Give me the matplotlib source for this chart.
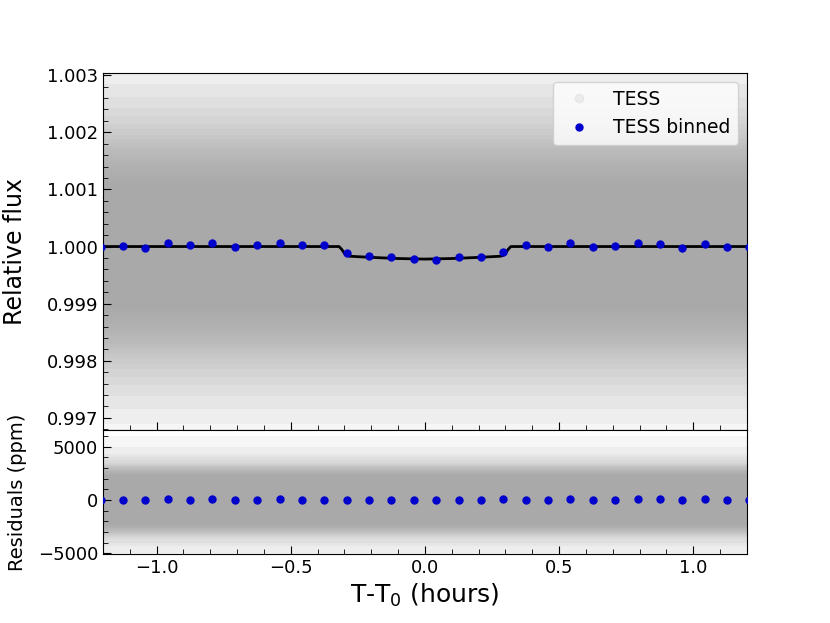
import matplotlib
matplotlib.use('Agg')
import matplotlib.pyplot as plt
from matplotlib.lines import Line2D
from matplotlib.ticker import MultipleLocator, FormatStrFormatter

# binned TESS points (5 min bins)
bin_t = [-1.208, -1.125, -1.042, -0.958, -0.875, -0.792, -0.708, -0.625,
         -0.542, -0.458, -0.375, -0.292, -0.208, -0.125, -0.042, 0.042,
         0.125, 0.208, 0.292, 0.375, 0.458, 0.542, 0.625, 0.708, 0.792,
         0.875, 0.958, 1.042, 1.125, 1.208]
bin_flux = [1.0, 1.00001, 0.99997, 1.00006, 1.00003, 1.00006, 0.99999,
            1.00003, 1.00006, 1.00002, 1.00002, 0.99988, 0.99984, 0.99982,
            0.99978, 0.99977, 0.99981, 0.99981, 0.9999, 1.00003, 1.0,
            1.00006, 0.99999, 1.00001, 1.00006, 1.00004, 0.99997, 1.00005,
            0.99999, 1.0]
bin_resid = [0, 10, -30, 60, 30, 60, -10, 30, 60, 20, 20, 20, 30, 30, 0,
             -10, 20, 0, 40, 30, 0, 60, -10, 10, 60, 40, -30, 50, -10, 0]

# transit model
model_t = [-1.25, -0.32, -0.31, -0.30, -0.29, -0.28, -0.2, -0.1, 0.0,
           0.1, 0.2, 0.28, 0.29, 0.30, 0.31, 0.32, 1.25]
model_f = [1.0, 1.0, 0.99995, 0.99988, 0.99984, 0.99983, 0.99981, 0.99979,
           0.99978, 0.99979, 0.99981, 0.99983, 0.99984, 0.99988, 0.99995,
           1.0, 1.0]

# spread of the unbinned TESS cloud around 1 (flux) and 0 (ppm):
# solid core plus translucent layers
span = [-1.25, 1.25]
flux_core = 0.0011
flux_halo = [0.00115, 0.00118, 0.00122, 0.00125, 0.00130, 0.00134, 0.00138,
             0.00142, 0.00147, 0.00152, 0.00157, 0.00164, 0.00170, 0.00176,
             0.00182, 0.00188, 0.00195, 0.00205, 0.00215, 0.00228, 0.00242,
             0.00262, 0.00285, 0.0031, 0.0034]
res_core = 2300
res_halo = [2340, 2380, 2420, 2460, 2500, 2540, 2580, 2620, 2660, 2700,
            2760, 2830, 2900, 2980, 3060, 3140, 3220, 3300, 3380, 3460,
            3700, 4000, 4300, 5000, 6000]

gray = '#a9a9a9'
blue = 'mediumblue'

fig, (ax, axr) = plt.subplots(2, 1, figsize=(8.3, 6.23), dpi=100, sharex=True,
                              gridspec_kw={'height_ratios': [2.88, 1], 'hspace': 0})
fig.subplots_adjust(left=0.124, right=0.9, top=0.883, bottom=0.111)

# main panel
for w in flux_halo:
    ax.fill_between(span, 1 - w, 1 + w, color=gray, alpha=0.1, lw=0, zorder=1)
ax.fill_between(span, 1 - flux_core, 1 + flux_core, color=gray, lw=0, zorder=1)
ax.plot(model_t, model_f, color='black', lw=2, zorder=3)
ax.plot(bin_t, bin_flux, 'o', color=blue, ms=5, zorder=4)

ax.set_xlim(-1.2, 1.2)
ax.set_ylim(0.99679, 1.00304)
ax.yaxis.set_major_locator(MultipleLocator(0.001))
ax.yaxis.set_minor_locator(MultipleLocator(0.0002))
ax.yaxis.set_major_formatter(FormatStrFormatter('%.3f'))
ax.xaxis.set_major_locator(MultipleLocator(0.5))
ax.xaxis.set_minor_locator(MultipleLocator(0.1))
ax.set_ylabel('Relative flux', fontsize=17)

handles = [Line2D([], [], marker='o', ls='', color=gray, alpha=0.15, ms=6),
           Line2D([], [], marker='o', ls='', color=blue, ms=5)]
ax.legend(handles, ['TESS', 'TESS binned'], loc='upper right', fontsize=13.5,
          framealpha=0.8)

# residuals
for w in res_halo:
    axr.fill_between(span, -w, w, color=gray, alpha=0.1, lw=0, zorder=1)
axr.fill_between(span, -res_core, res_core, color=gray, lw=0, zorder=1)
axr.plot(bin_t, bin_resid, 'o', color=blue, ms=5, zorder=4)
axr.set_ylim(-5060, 6560)
axr.yaxis.set_major_locator(MultipleLocator(5000))
axr.yaxis.set_minor_locator(MultipleLocator(1000))
axr.set_ylabel('Residuals (ppm)', fontsize=14)
axr.set_xlabel('T-T$_0$ (hours)', fontsize=18)

for a in (ax, axr):
    a.tick_params(which='both', direction='in', labelsize=13)
    a.tick_params(which='major', length=6)
    a.tick_params(which='minor', length=3.5)
    a.yaxis.set_label_coords(-0.118, 0.5)
ax.tick_params(labelbottom=False)

plt.savefig('out.png')
